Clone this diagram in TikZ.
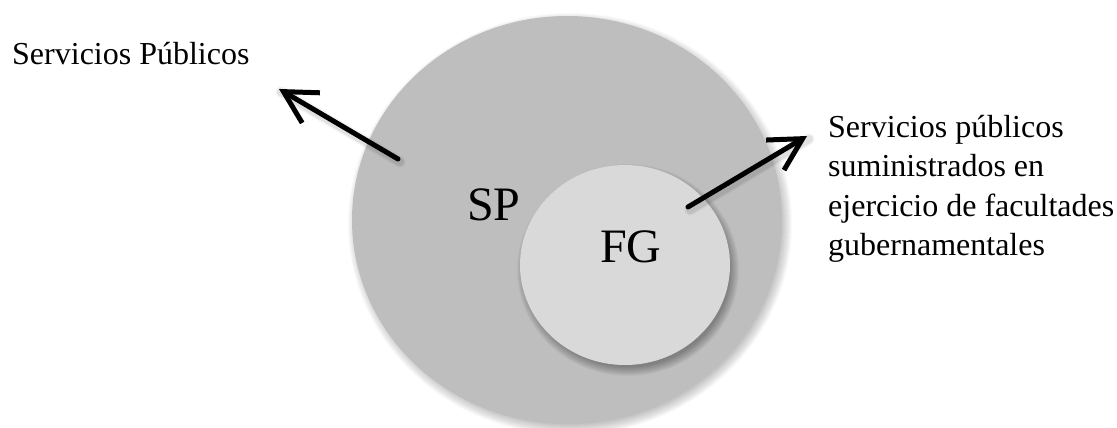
\documentclass[tikz,border=0pt]{standalone}
\usepackage{fontspec}
\setmainfont{Liberation Serif}
\usetikzlibrary{arrows.meta}
\definecolor{bigfill}{RGB}{190,190,190}
\definecolor{smallfill}{RGB}{217,217,217}
\begin{document}
\begin{tikzpicture}[x=1pt,y=-1pt,
  lbl/.style={inner sep=0pt, font=\fontsize{32}{39.5}\selectfont, text=black},
  big/.style={inner sep=0pt, font=\fontsize{48}{52}\selectfont, text=black},
  arr/.style={line width=5pt, line cap=round, line join=round, black,
    -{Straight Barb[length=32pt, width=35pt, line width=5pt]}},
  arrshadow/.style={line cap=round, black}]
\useasboundingbox (0,0) rectangle (1117,428);

% big circle shadow
\foreach \i in {0,...,11}
  \fill[black, opacity=0.022] (570,224) ellipse ({215+7-\i} and {204+7-\i});
\fill[bigfill] (567,220) ellipse (215 and 204);

% small circle shadow
\foreach \i in {0,...,9}
  \fill[black, opacity=0.035] (628,270) ellipse ({105+6-\i} and {100+6-\i});
\fill[smallfill] (625,265) ellipse (105 and 100);

% labels in circles
\node[big, anchor=base west] (sp) at (467,220) {SP};
\node[big, anchor=base west] (fg) at (600,262) {FG};

% outer labels
\node[lbl, anchor=base west] (lab1) at (12,65) {Servicios Públicos};
\node[lbl, anchor=base west, align=left] (lab2) at (828,255.5)
  {Servicios públicos\\suministrados en\\ejercicio de facultades\\gubernamentales};

% arrows
\coordinate (t1) at (398,159);
\coordinate (h1) at (279,89);
\coordinate (t2) at (688,207);
\coordinate (h2) at (807,136);
\foreach \w/\o in {11/0.05,8/0.07}{
  \draw[arrshadow, line width=\w pt, opacity=\o] ([shift={(2,3)}]t1) -- ([shift={(2,3)}]h1);
  \draw[arrshadow, line width=\w pt, opacity=\o] ([shift={(2,3)}]t2) -- ([shift={(2,3)}]h2);
}
\draw[arr] (t1) -- (h1);
\draw[arr] (t2) -- (h2);
\end{tikzpicture}
\end{document}
